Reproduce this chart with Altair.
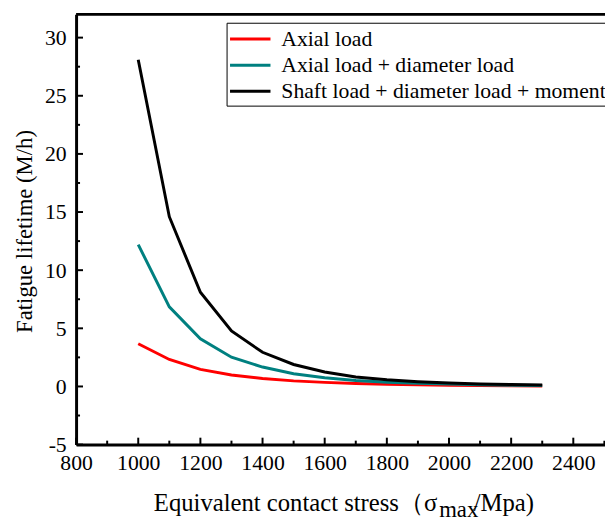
import altair as alt
import pandas as pd

stress = [1000, 1100, 1200, 1300, 1400, 1500, 1600, 1700, 1800, 1900, 2000, 2100, 2200, 2300]
axial = [3.67, 2.32, 1.47, 0.99, 0.68, 0.48, 0.35, 0.26, 0.19, 0.14, 0.10, 0.08, 0.06, 0.04]
axial_diam = [12.2, 6.85, 4.1, 2.52, 1.67, 1.1, 0.75, 0.52, 0.37, 0.27, 0.2, 0.15, 0.11, 0.08]
shaft_all = [28.1, 14.6, 8.1, 4.77, 2.94, 1.89, 1.24, 0.82, 0.57, 0.41, 0.30, 0.22, 0.17, 0.13]
series_names = ["Axial load", "Axial load + diameter load", "Shaft load + diameter load + moment"]
series_colors = ["#FF0000", "#008080", "#000000"]
x_major = [800, 1000, 1200, 1400, 1600, 1800, 2000, 2200, 2400]
x_minor = [900, 1100, 1300, 1500, 1700, 1900, 2100, 2300, 2500]
y_major = [-5, 0, 5, 10, 15, 20, 25, 30]
y_minor = [-2.5, 2.5, 7.5, 12.5, 17.5, 22.5, 27.5]
x_title_parts = ["Equivalent contact stress（σ", "max", "/Mpa)"]
y_title = "Fatigue lifetime (M/h)"

rows = []
for name, vals in zip(series_names, [axial, axial_diam, shaft_all]):
    for s, v in zip(stress, vals):
        rows.append({"stress": s, "life": v, "series": name})
df = pd.DataFrame(rows)

W, H = 536, 436
FONT = "Liberation Serif"
xscale = alt.Scale(domain=[800, 2502], nice=False, zero=False)
yscale = alt.Scale(domain=[-5, 32], nice=False, zero=False)

lines = alt.Chart(df).mark_line(strokeWidth=3).encode(
    x=alt.X("stress:Q", scale=xscale,
            axis=alt.Axis(values=x_major, title=None,
                          labelExpr="'' + datum.value",
                          labelFont=FONT, labelFontSize=22, labelColor="black",
                          tickSize=0, labelPadding=8, domainWidth=3, domainColor="black",
                          labelFlush=False, labelOverlap=False, grid=False)),
    y=alt.Y("life:Q", scale=yscale,
            axis=alt.Axis(values=y_major, title=None,
                          labelExpr="'' + datum.value",
                          labelFont=FONT, labelFontSize=22, labelColor="black",
                          tickSize=0, labelPadding=10, domainWidth=3, domainColor="black",
                          labelFlush=False, labelOverlap=False, grid=False)),
    color=alt.Color("series:N", scale=alt.Scale(domain=series_names, range=series_colors), legend=None),
    detail="series:N",
)

def xticks(vals, length):
    return alt.Chart(pd.DataFrame({"v": vals})).mark_rule(color="black", strokeWidth=2).encode(
        x=alt.X("v:Q", scale=xscale), y=alt.value(H), y2=alt.value(H - length))

def yticks(vals, length):
    return alt.Chart(pd.DataFrame({"v": vals})).mark_rule(color="black", strokeWidth=2).encode(
        y=alt.Y("v:Q", scale=yscale), x=alt.value(0), x2=alt.value(length))

top_line = alt.Chart(pd.DataFrame({"a": [0]})).mark_rule(color="black", strokeWidth=3).encode(
    x=alt.value(0), x2=alt.value(W), y=alt.value(0))

# axis titles (x title has a subscript)
title_layers = [
    alt.Chart(pd.DataFrame({"t": [y_title]})).mark_text(
        font=FONT, fontSize=23, color="black", align="center", baseline="middle", angle=270).encode(
        text="t:N", x=alt.value(-52), y=alt.value(220)),
    alt.Chart(pd.DataFrame({"t": [x_title_parts[0]]})).mark_text(
        font=FONT, fontSize=25, color="black", align="right", baseline="alphabetic").encode(
        text="t:N", x=alt.value(366), y=alt.value(503)),
    alt.Chart(pd.DataFrame({"t": [x_title_parts[1]]})).mark_text(
        font=FONT, fontSize=23, color="black", align="left", baseline="alphabetic").encode(
        text="t:N", x=alt.value(368), y=alt.value(509)),
    alt.Chart(pd.DataFrame({"t": [x_title_parts[2]]})).mark_text(
        font=FONT, fontSize=25, color="black", align="left", baseline="alphabetic").encode(
        text="t:N", x=alt.value(403), y=alt.value(503)),
]

# legend
LX, LY = 153, 9
legend_layers = [
    alt.Chart(pd.DataFrame({"a": [0]})).mark_rect(fill="white", stroke="black", strokeWidth=1).encode(
        x=alt.value(LX), x2=alt.value(LX + 420), y=alt.value(LY), y2=alt.value(LY + 84))
]
for i, (name, col) in enumerate(zip(series_names, series_colors)):
    yy = LY + 16 + i * 26.5
    legend_layers.append(
        alt.Chart(pd.DataFrame({"name": [name]})).mark_rule(color=col, strokeWidth=3).encode(
            x=alt.value(LX + 3), x2=alt.value(LX + 44), y=alt.value(yy)))
    legend_layers.append(
        alt.Chart(pd.DataFrame({"name": [name]})).mark_text(
            font=FONT, fontSize=22, color="black", align="left", baseline="middle").encode(
            text="name:N", x=alt.value(LX + 55), y=alt.value(yy)))

chart = alt.layer(
    lines, xticks(x_major, 7), xticks(x_minor, 4), yticks(y_major, 7), yticks(y_minor, 4), top_line,
    *title_layers, *legend_layers
).properties(
    width=W, height=H,
    autosize=alt.AutoSizeParams(type="none"),
    padding={"left": 69, "top": 3, "right": 0, "bottom": 76},
).configure_view(stroke=None).configure(background="white")

chart.save("out.html", embed_options={"renderer": "svg", "actions": False})
